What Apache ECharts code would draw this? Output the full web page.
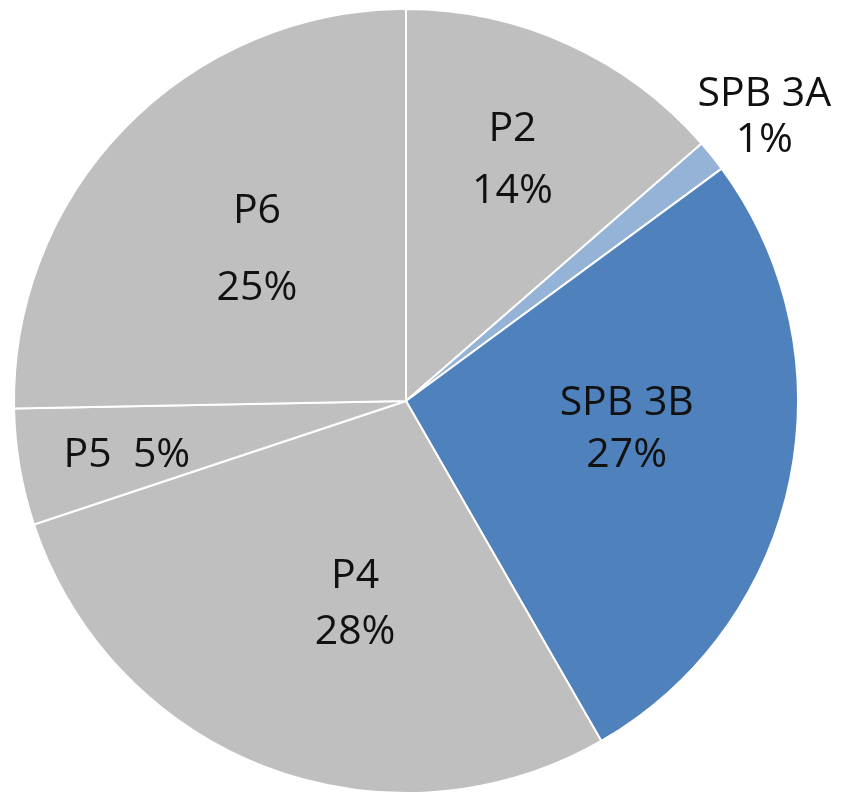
<!DOCTYPE html>
<html>
<head>
<meta charset="utf-8">
<script src="https://cdn.jsdelivr.net/npm/echarts@6/dist/echarts.min.js"></script>
<style>
  html, body { margin: 0; padding: 0; background: #fff; }
  #pie { width: 844px; height: 802px; }
</style>
</head>
<body>
<div id="pie"></div>
<script>
// 各扇区数据（顺时针，从正上方开始）
var names = ['P2', 'SPB 3A', 'SPB 3B', 'P4', 'P5', 'P6'];
var values = [13.6, 1.3, 26.8, 28.2, 4.8, 25.3];

var colors = ['#bfbfbf', '#95b3d7', '#4f81bd', '#bfbfbf', '#bfbfbf', '#bfbfbf'];
// label nudges from the default inside spot
var labelShift = [[24, -60], [203, -159], [26, -13], [20, 17], [-83, 21], [-7, -12]];
var lineHeights = [62, 46, 52, 56, 40, 77];
var joiners = ['\n', '\n', '\n', '\n', '  ', '\n'];

var items = [];
for (var i = 0; i < names.length; i++) {
    items.push({
        name: names[i],
        value: values[i],
        itemStyle: { color: colors[i] },
        label: { lineHeight: lineHeights[i] }
    });
}

var pieChart = echarts.init(document.getElementById('pie'));
pieChart.setOption({
    backgroundColor: '#ffffff',
    animation: false,
    series: [
        {
            type: 'pie',
            center: [406, 401],
            radius: 392,
            startAngle: 90,
            clockwise: true,
            avoidLabelOverlap: false,
            data: items,
            itemStyle: {
                borderColor: '#ffffff',
                borderWidth: 2
            },
            label: {
                show: true,
                position: 'inside',
                color: '#111111',
                fontFamily: 'Open Sans',
                fontSize: 41,
                align: 'center',
                formatter: function (p) {
                    return p.name + joiners[p.dataIndex] + Math.round(p.percent) + '%';
                }
            },
            labelLine: { show: false },
            labelLayout: function (p) {
                return { dx: labelShift[p.dataIndex][0], dy: labelShift[p.dataIndex][1] };
            }
        }
    ]
});
</script>
</body>
</html>
